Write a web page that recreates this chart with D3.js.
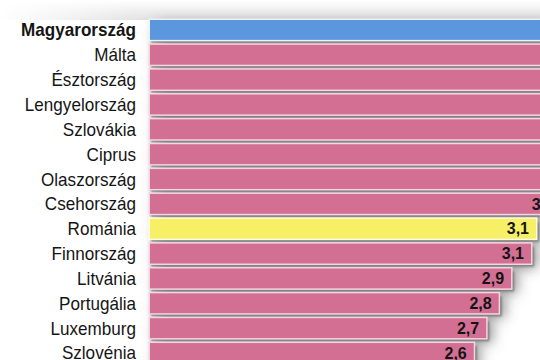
<!DOCTYPE html>
<html>
<head>
<meta charset="utf-8">
<script src="https://cdn.jsdelivr.net/npm/d3@7"></script>
<style>
  html, body { margin: 0; padding: 0; background: #ffffff; }
  svg { display: block; }
</style>
</head>
<body>
<svg id="chart" width="540" height="360"></svg>
<script>
// ---- data ----
const countries = ["Magyarország", "Málta", "Észtország", "Lengyelország", "Szlovákia", "Ciprus",
  "Olaszország", "Csehország", "Románia", "Finnország", "Litvánia", "Portugália", "Luxemburg", "Szlovénia"];
const values = [4.8, 4.1, 3.9, 3.7, 3.6, 3.5, 3.4, 3.3, 3.1, 3.06, 2.9, 2.8, 2.7, 2.6];
const highlight = ["hu", "", "", "", "", "", "", "", "ro", "", "", "", "", ""];

const colors = { hu: "#5a97dc", ro: "#f7f066", "": "#d46f94" };
const borders = { hu: "#eef3fb", ro: "#fdfbe0", "": "#f4d6e1" };

const data = countries.map((c, i) => ({ country: c, value: values[i], hl: highlight[i] }));

const svg = d3.select("#chart");
const W = 540, H = 360;

const x = d3.scaleLinear().domain([0, 3.1]).range([150, 536]);
const y = d3.scaleBand().domain(countries).range([17.5, 365.4]).paddingInner(0.2).paddingOuter(0.1);

const fmt = d3.formatLocale({ decimal: ",", thousands: " ", grouping: [3], currency: ["", ""] }).format(".1f");

const defs = svg.append("defs");
const big = defs.append("filter").attr("id", "bigShadow").attr("x", "-20%").attr("y", "-50%").attr("width", "160%").attr("height", "200%");
big.append("feGaussianBlur").attr("stdDeviation", 7);
const small = defs.append("filter").attr("id", "smallShadow").attr("x", "-5%").attr("y", "-50%").attr("width", "110%").attr("height", "200%");
small.append("feGaussianBlur").attr("stdDeviation", 0.8);

const topGrad = defs.append("linearGradient").attr("id", "topGrad").attr("x1", 0).attr("y1", 0).attr("x2", 0).attr("y2", 1);
topGrad.append("stop").attr("offset", "0%").attr("stop-color", "#ffffff");
topGrad.append("stop").attr("offset", "100%").attr("stop-color", "#e2e2e2");
const topMaskGrad = defs.append("linearGradient").attr("id", "topMaskGrad").attr("x1", 0).attr("y1", 0).attr("x2", 1).attr("y2", 0);
topMaskGrad.append("stop").attr("offset", "0%").attr("stop-color", "#000");
topMaskGrad.append("stop").attr("offset", "25%").attr("stop-color", "#fff");
topMaskGrad.append("stop").attr("offset", "100%").attr("stop-color", "#fff");
const mask = defs.append("mask").attr("id", "topMask");
mask.append("rect").attr("x", 0).attr("y", 0).attr("width", W).attr("height", 20).attr("fill", "url(#topMaskGrad)");

svg.append("rect").attr("width", W).attr("height", H).attr("fill", "#ffffff");

// soft shadow at top
svg.append("rect").attr("x", 0).attr("y", 0).attr("width", W).attr("height", 20)
  .attr("fill", "url(#topGrad)").attr("mask", "url(#topMask)");

// big soft shadow behind bars
svg.append("g").attr("filter", "url(#bigShadow)")
  .selectAll("rect").data(data).join("rect")
  .attr("x", x(0) + 6)
  .attr("y", d => y(d.country) + 4)
  .attr("width", d => x(d.value) - x(0))
  .attr("height", y.bandwidth())
  .attr("fill", "#5a5a5a")
  .attr("opacity", 0.75);

// crisp small shadow
svg.append("g").attr("filter", "url(#smallShadow)")
  .selectAll("rect").data(data).join("rect")
  .attr("x", x(0) + 1)
  .attr("y", d => y(d.country) + 3)
  .attr("width", d => x(d.value) - x(0) + 2)
  .attr("height", y.bandwidth())
  .attr("fill", "#7a7a7a");

// bar borders
svg.append("g").selectAll("rect").data(data).join("rect")
  .attr("x", x(0) - 1.5)
  .attr("y", d => y(d.country) - 1.5)
  .attr("width", d => x(d.value) - x(0) + 3)
  .attr("height", y.bandwidth() + 3)
  .attr("fill", d => borders[d.hl]);

// bars
svg.append("g").selectAll("rect").data(data).join("rect")
  .attr("x", x(0))
  .attr("y", d => y(d.country))
  .attr("width", d => x(d.value) - x(0))
  .attr("height", y.bandwidth())
  .attr("fill", d => colors[d.hl]);

// value labels
svg.append("g").selectAll("text").data(data).join("text")
  .attr("x", d => x(d.value) - 7)
  .attr("y", d => y(d.country) + y.bandwidth() / 2)
  .attr("dy", "0.36em")
  .attr("text-anchor", "end")
  .attr("font-family", "'Liberation Sans', Arial, sans-serif")
  .attr("font-weight", "bold")
  .attr("font-size", 16)
  .attr("fill", "#141414")
  .text(d => fmt(d.value));

// category labels (slightly condensed)
svg.append("g").selectAll("text").data(data).join("text")
  .attr("transform", d => `translate(136,${y(d.country) + y.bandwidth() / 2}) scale(0.95,1)`)
  .attr("dy", "0.36em")
  .attr("text-anchor", "end")
  .attr("font-family", "'Liberation Sans', Arial, sans-serif")
  .attr("font-weight", d => d.hl === "hu" ? "bold" : "normal")
  .attr("font-size", 18)
  .attr("fill", "#151515")
  .text(d => d.country);
</script>
</body>
</html>
